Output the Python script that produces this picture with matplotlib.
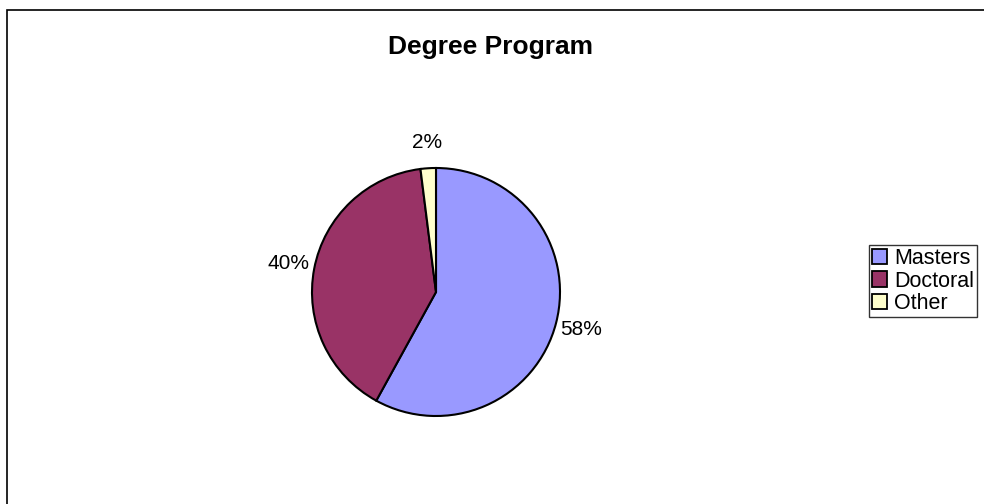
import matplotlib
matplotlib.use("Agg")
import matplotlib.pyplot as plt
from matplotlib.patches import Patch, Rectangle

# degree program shares (percent)
categories = ["Masters", "Doctoral", "Other"]
shares = [58, 40, 2]
colors = ["#9999FF", "#993366", "#FFFFCC"]

plt.rcParams['font.family'] = ['Liberation Sans', 'DejaVu Sans']

W, H = 984, 504
fig = plt.figure(figsize=(W / 100, H / 100), dpi=100)
fig.patch.set_facecolor("white")

# chart area border, running off the right and bottom edges
fig.patches.append(Rectangle((7 / W, -0.02), 1.05, 1 - 10 / H + 0.02,
                             transform=fig.transFigure, fill=False,
                             edgecolor="black", linewidth=1.2))

# pie centre and radius in pixels
cx, cy, r = 436, 292, 124
ax = fig.add_axes([(cx - r) / W, (H - cy - r) / H, 2 * r / W, 2 * r / H])

wedges, texts = ax.pie(
    shares, colors=colors, startangle=90, counterclock=False,
    labels=[f"{v}%" for v in shares], labeldistance=1.21,
    wedgeprops=dict(edgecolor="black", linewidth=1.5),
    textprops=dict(fontsize=15, color="black"),
)
for t in texts:
    t.set_horizontalalignment("center")
    t.set_verticalalignment("center")
ax.set_xlim(-1, 1)
ax.set_ylim(-1, 1)
ax.set_aspect("equal")
for w in wedges:
    w.set_clip_on(False)

fig.text(491 / W, 1 - 47 / H, "Degree Program", ha="center", va="center",
         fontsize=19, fontweight="bold")

handles = [Patch(facecolor=c, edgecolor="black", linewidth=1.3) for c in colors]
leg = fig.legend(handles, categories, loc="upper left",
                 bbox_to_anchor=(869 / W, 1 - 245 / H),
                 fontsize=15.5, frameon=True, fancybox=False,
                 handlelength=0.7, handleheight=0.7, handletextpad=0.3,
                 labelspacing=0.06, borderpad=0.15, borderaxespad=0)
leg.get_frame().set_edgecolor("black")
leg.get_frame().set_linewidth(1.0)

fig.savefig("out.png", dpi=100)
